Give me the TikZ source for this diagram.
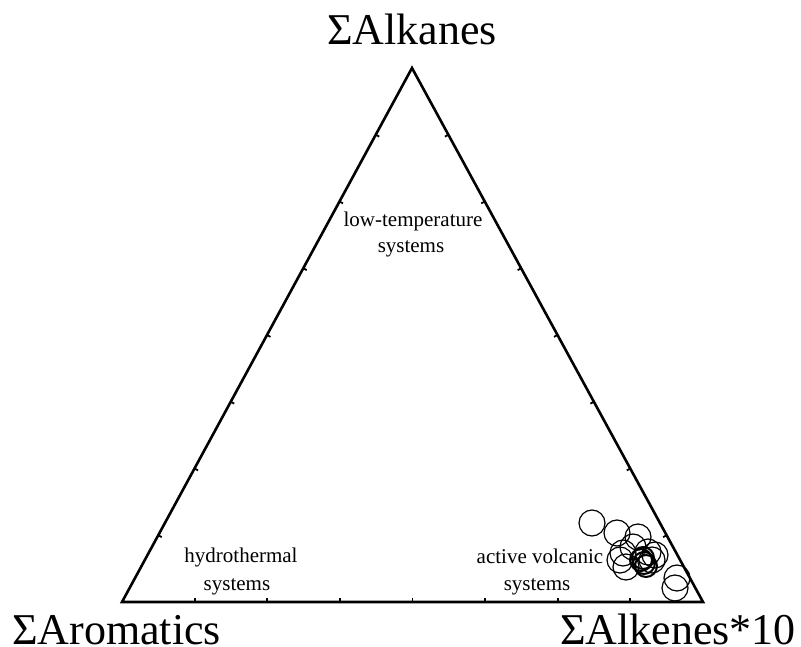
\documentclass[tikz,border=0pt]{standalone}
\usepackage{fontspec}
\setmainfont{Liberation Serif}
\usetikzlibrary{calc}
\begin{document}
\begin{tikzpicture}[x=1pt,y=-1pt,
  side/.style={line width=2.6pt,line join=miter},
  tickmark/.style={line width=1.8pt},
  apex/.style={inner sep=0pt,font=\fontsize{44}{50}\selectfont},
  field/.style={inner sep=0pt,font=\fontsize{21}{27}\selectfont},
  pt/.style={line width=1.2pt},
  ptb/.style={line width=2pt}]
\useasboundingbox (0,0) rectangle (801,647);
\coordinate (T) at (412,68);
\coordinate (L) at (122,602);
\coordinate (R) at (703,602);
\draw[side] (T) -- (L) -- (R) -- cycle;
\foreach \k in {1,...,7}{
  \draw[tickmark] ($(L)!\k/8!(R)$) -- ($(L)!\k/8!(R) + (0,-4)$);
  \draw[tickmark] ($(L)!\k/8!(T)$) -- ($(L)!\k/8!(T) + (3.5,1.9)$);
  \draw[tickmark] ($(R)!\k/8!(T)$) -- ($(R)!\k/8!(T) + (-3.5,1.9)$);
}
\node[apex,anchor=base] (alk) at (412,45) {ΣAlkanes};
\node[apex,anchor=base west] (aro) at (12,644) {ΣAromatics};
\node[apex,anchor=base east] (ale) at (796,644) {ΣAlkenes*10};
\node[field,anchor=base] (lt1) at (413,227) {low-temperature};
\node[field,anchor=base] (lt2) at (411,253) {systems};
\node[field,anchor=base] (hy1) at (241,562) {hydrothermal};
\node[field,anchor=base] (hy2) at (237,590) {systems};
\node[field,anchor=base] (av1) at (540,563) {active volcanic};
\node[field,anchor=base] (av2) at (537,590) {systems};
% data points
\foreach \x/\y in {592/523, 617/533, 638/537, 655/555, 623/553, 626/567,
                   633/547, 652/560, 620/560, 677/578, 675/588, 648/552}{
  \draw[pt] (\x,\y) circle[radius=13pt];
}
\foreach \x/\y in {641/560, 644/563, 646/566, 643/558}{
  \draw[ptb] (\x,\y) circle[radius=11pt];
}
\end{tikzpicture}
\end{document}
